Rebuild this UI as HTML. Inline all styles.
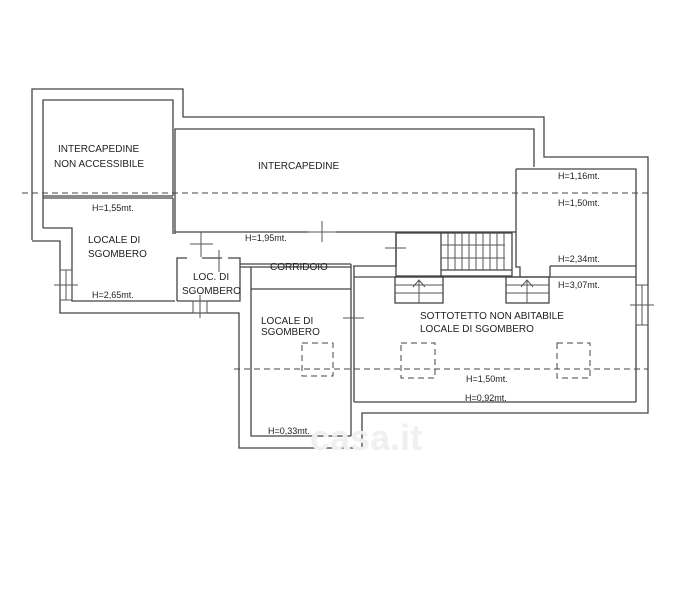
<!DOCTYPE html>
<html><head><meta charset="utf-8"><style>
html,body{margin:0;padding:0;background:#fff;width:697px;height:600px;overflow:hidden}
svg{display:block}
text{font-family:"Liberation Sans",sans-serif;font-size:10px;fill:#222}
.t{font-size:9px}
</style></head><body>
<svg width="697" height="600" viewBox="0 0 697 600">
<g fill="none" stroke="#444" stroke-width="1.3">
<polyline points="32,240 32,89 183,89 183,117 544,117 544,157 648,157 648,413 362,413 362,448 239,448 239,313 60,313 60,241 32,241"/>
<polyline points="43,228 43,100 173,100 173,196"/>
<line x1="43" y1="196" x2="173" y2="196"/>
<line x1="43" y1="198" x2="173" y2="198"/>
<polyline points="43,228 72,228 72,301 175,301"/>
<line x1="173" y1="198" x2="173" y2="234"/>
<polyline points="175,234 175,129 534,129 534,167"/>
<polyline points="175,232 308,232"/>
<polyline points="336,232 516,232"/>
<line x1="516" y1="169" x2="516" y2="232"/>
<polyline points="516,169 636,169 636,402"/>
<line x1="240" y1="264" x2="351" y2="264"/>
<line x1="240" y1="267" x2="351" y2="267"/>
<line x1="351" y1="264" x2="351" y2="402"/>
<line x1="354" y1="266" x2="354" y2="402"/>
<polyline points="353,266 396,266 396,233"/>
<polyline points="177,301 177,258 187,258"/>
<polyline points="202,258 222,258"/>
<polyline points="228,258 240,258 240,301 177,301"/>
<polyline points="251,267 251,436 351,436"/>
<line x1="251" y1="289" x2="351" y2="289"/>
<line x1="351" y1="402" x2="351" y2="436"/>
<polyline points="354,402 636,402"/>
<line x1="354" y1="277" x2="636" y2="277"/>
<line x1="550" y1="266" x2="636" y2="266"/>
<line x1="550" y1="266" x2="550" y2="277"/>
<polyline points="516,232 516,267 520,267 520,277"/>
<rect x="396" y="233" width="116" height="43"/>
<line x1="441" y1="233" x2="441" y2="276"/>
<line x1="441" y1="270" x2="512" y2="270"/>
<rect x="395" y="277" width="48" height="26"/>
<rect x="506" y="277" width="43" height="26"/>
</g>
<g stroke="#555" stroke-width="1" fill="none">
<line x1="448" y1="233" x2="448" y2="270"/><line x1="455" y1="233" x2="455" y2="270"/><line x1="462" y1="233" x2="462" y2="270"/><line x1="469" y1="233" x2="469" y2="270"/><line x1="476" y1="233" x2="476" y2="270"/><line x1="483" y1="233" x2="483" y2="270"/><line x1="490" y1="233" x2="490" y2="270"/><line x1="497" y1="233" x2="497" y2="270"/><line x1="504" y1="233" x2="504" y2="270"/>
<line x1="441" y1="245" x2="505" y2="245"/><line x1="441" y1="258" x2="505" y2="258"/>
<line x1="395" y1="285" x2="443" y2="285"/><line x1="395" y1="293" x2="443" y2="293"/><line x1="419" y1="280" x2="419" y2="303"/>
<polyline points="413,287 419,280 425,287"/>
<line x1="506" y1="285" x2="549" y2="285"/><line x1="506" y1="293" x2="549" y2="293"/><line x1="527" y1="280" x2="527" y2="303"/>
<polyline points="521,287 527,280 533,287"/>
<line x1="322" y1="221" x2="322" y2="242"/><line x1="308" y1="232" x2="336" y2="232"/>
<line x1="190" y1="244" x2="213" y2="244"/><line x1="201" y1="232" x2="201" y2="257"/>
<line x1="219" y1="250" x2="219" y2="272"/>
<line x1="385" y1="248" x2="406" y2="248"/>
<line x1="343" y1="318" x2="364" y2="318"/>
<rect x="60" y="270" width="12" height="30"/><line x1="54" y1="285" x2="78" y2="285"/><line x1="66" y1="270" x2="66" y2="300"/>
<rect x="193" y="301" width="14" height="12"/><line x1="200" y1="295" x2="200" y2="318"/>
<rect x="636" y="285" width="12" height="40"/><line x1="630" y1="305" x2="654" y2="305"/><line x1="642" y1="285" x2="642" y2="325"/>
</g>
<g stroke="#444" stroke-width="1" fill="none" stroke-dasharray="6,4">
<line x1="22" y1="193" x2="648" y2="193"/>
<line x1="234" y1="369" x2="648" y2="369"/>
<rect x="302" y="343" width="31" height="33"/>
<rect x="401" y="343" width="34" height="35"/>
<rect x="557" y="343" width="33" height="35"/>
</g>
<text x="58" y="152">INTERCAPEDINE</text>
<text x="54" y="167">NON ACCESSIBILE</text>
<text x="258" y="169">INTERCAPEDINE</text>
<text x="88" y="243">LOCALE DI</text>
<text x="88" y="257">SGOMBERO</text>
<text x="270" y="270">CORRIDOIO</text>
<text x="193" y="280">LOC. DI</text>
<text x="182" y="294">SGOMBERO</text>
<text x="261" y="324">LOCALE DI</text>
<text x="261" y="335">SGOMBERO</text>
<text x="420" y="319">SOTTOTETTO NON ABITABILE</text>
<text x="420" y="332">LOCALE DI SGOMBERO</text>
<text class="t" x="92" y="211">H=1,55mt.</text>
<text class="t" x="245" y="241">H=1,95mt.</text>
<text class="t" x="92" y="298">H=2,65mt.</text>
<text class="t" x="558" y="179">H=1,16mt.</text>
<text class="t" x="558" y="206">H=1,50mt.</text>
<text class="t" x="558" y="262">H=2,34mt.</text>
<text class="t" x="558" y="288">H=3,07mt.</text>
<text class="t" x="466" y="382">H=1,50mt.</text>
<text class="t" x="465" y="401">H=0,92mt.</text>
<text class="t" x="268" y="434">H=0,33mt.</text>
<text x="310" y="450" style="font-size:36px;font-weight:bold;fill:#f0f0f0">casa.it</text>
</svg>
</body></html>
